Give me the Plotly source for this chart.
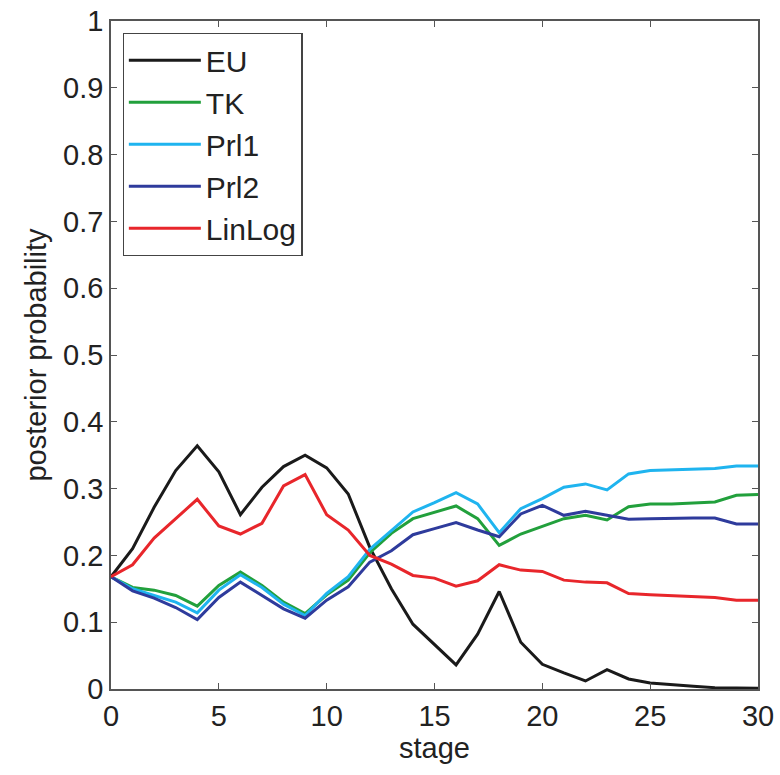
import plotly.graph_objects as go

stage = list(range(31))
EU = [0.168, 0.21, 0.272, 0.327, 0.364, 0.325, 0.261, 0.302, 0.333, 0.35, 0.331,
      0.292, 0.212, 0.15, 0.097, 0.067, 0.036, 0.082, 0.146, 0.07, 0.037,
      0.024, 0.012, 0.029, 0.015, 0.009, 0.006, 0.004, 0.002, 0.001, 0.001]
TK = [0.168, 0.152, 0.148, 0.14, 0.124, 0.155, 0.175, 0.155, 0.13, 0.113, 0.141,
      0.163, 0.204, 0.233, 0.255, 0.265, 0.274, 0.255, 0.215, 0.232, 0.243,
      0.255, 0.26, 0.253, 0.273, 0.277, 0.277, 0.278, 0.28, 0.29, 0.291]
Prl1 = [0.168, 0.15, 0.14, 0.13, 0.114, 0.148, 0.171, 0.152, 0.127, 0.11, 0.143,
        0.168, 0.209, 0.237, 0.265, 0.279, 0.294, 0.277, 0.234, 0.27, 0.285,
        0.302, 0.307, 0.298, 0.322, 0.327, 0.328, 0.329, 0.33, 0.334, 0.334]
Prl2 = [0.168, 0.147, 0.136, 0.122, 0.104, 0.137, 0.16, 0.14, 0.12, 0.106, 0.133,
        0.153, 0.19, 0.207, 0.231, 0.24, 0.249, 0.238, 0.228, 0.262, 0.275,
        0.26, 0.266, 0.26, 0.254, 0.255, 0.256, 0.256, 0.256, 0.247, 0.247]
LinLog = [0.168, 0.186, 0.226, 0.255, 0.284, 0.244, 0.232, 0.248, 0.304, 0.321, 0.261,
          0.238, 0.2, 0.187, 0.17, 0.166, 0.154, 0.162, 0.186, 0.178, 0.176,
          0.163, 0.16, 0.159, 0.143, 0.141, 0.14, 0.139, 0.137, 0.133, 0.133]

series = [("EU", EU, "#1a1a1a"), ("TK", TK, "#22a03c"), ("Prl1", Prl1, "#1fb4ef"),
          ("Prl2", Prl2, "#2e3b9c"), ("LinLog", LinLog, "#e8262b")]

fig = go.Figure()
for name, vals, col in series:
    fig.add_trace(go.Scatter(x=stage, y=vals, mode="lines", name=name,
                             line=dict(color=col, width=3)))

font = dict(family="Liberation Sans, Arial, sans-serif", size=29, color="#222222")
axis_common = dict(showgrid=False, zeroline=False, showline=True, linecolor="#555555",
                   linewidth=1.5, mirror="ticks", ticks="inside", ticklen=6,
                   tickcolor="#555555", tickwidth=1.2, tickfont=font)

fig.update_layout(
    width=780, height=775,
    margin=dict(l=111, r=22, t=21, b=86, autoexpand=False),
    paper_bgcolor="white", plot_bgcolor="white",
    font=font,
    xaxis=dict(range=[0, 30], tickvals=[0, 5, 10, 15, 20, 25, 30],
               title=dict(text="stage", font=font, standoff=0), **axis_common),
    yaxis=dict(range=[0, 1], tickvals=[i / 10 for i in range(11)],
               ticktext=["0", "0.1", "0.2", "0.3", "0.4", "0.5", "0.6", "0.7", "0.8", "0.9", "1"],
               title=dict(text="posterior probability", font=font, standoff=8), **axis_common),
    legend=dict(x=0.018, y=0.982, xanchor="left", yanchor="top",
                bgcolor="white", bordercolor="#444444", borderwidth=1.2,
                font=dict(family="Liberation Sans, Arial, sans-serif", size=30, color="#222222"),
                itemwidth=72, tracegroupgap=0),
    showlegend=True,
)

fig.write_html("out.html")
